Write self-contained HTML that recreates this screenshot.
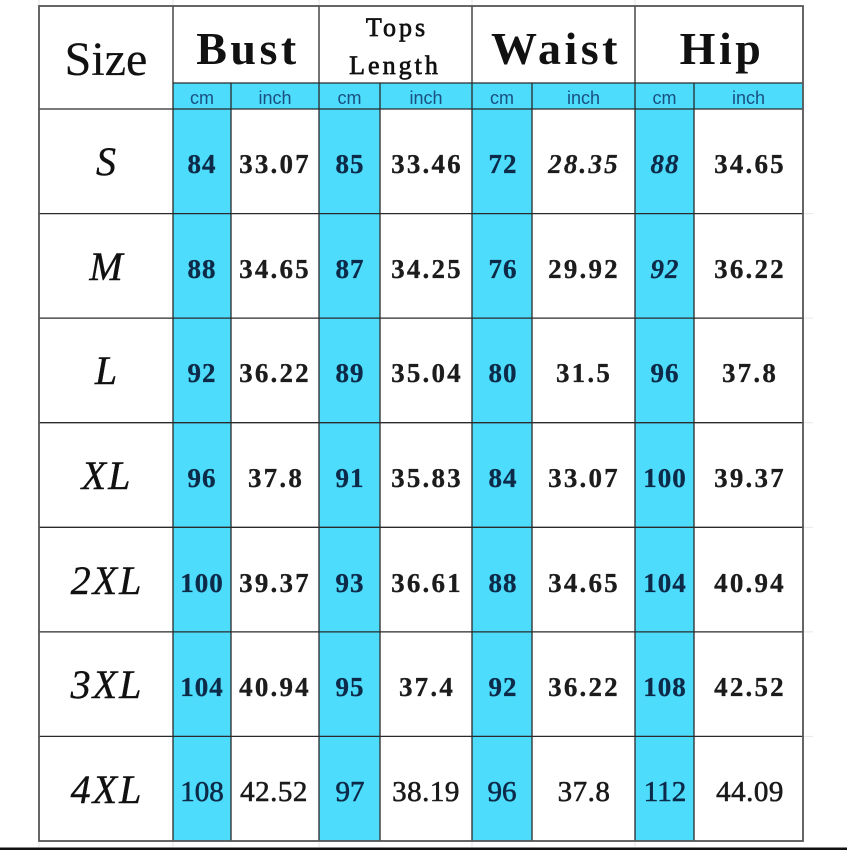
<!DOCTYPE html>
<html><head><meta charset="utf-8"><style>
html,body{margin:0;padding:0;background:#fff;}
svg{display:block;}
.n{font-family:"Liberation Serif",serif;font-weight:bold;font-size:27px;letter-spacing:2.2px;fill:#1c1c1c;stroke:#1c1c1c;stroke-width:0.3px;}
.c{font-family:"Liberation Serif",serif;font-weight:bold;font-size:27px;letter-spacing:1px;fill:#0d2a48;stroke:#0d2a48;stroke-width:0.3px;}
.s{font-family:"Liberation Serif",serif;font-style:italic;font-size:40px;letter-spacing:2px;fill:#111;stroke:#111;stroke-width:0.4px;}
.u{font-family:"Liberation Sans",sans-serif;font-size:18px;fill:#1a4f80;}
.h{font-family:"Liberation Serif",serif;font-weight:bold;font-size:46px;letter-spacing:3.5px;fill:#111;}
.t{font-family:"Liberation Serif",serif;font-size:26px;letter-spacing:3px;fill:#111;stroke:#111;stroke-width:0.7px;}
.r{font-family:"Liberation Serif",serif;font-size:29px;letter-spacing:0.5px;fill:#1a1a1a;stroke:#1a1a1a;stroke-width:0.6px;}
.rc{font-family:"Liberation Serif",serif;font-size:29px;letter-spacing:0px;fill:#0d2a48;stroke:#0d2a48;stroke-width:0.6px;}
</style></head><body>
<svg width="847" height="850" viewBox="0 0 847 850" xmlns="http://www.w3.org/2000/svg">
<rect width="847" height="850" fill="#fff"/>
<g stroke="#e6e6e6" stroke-width="1">
<line x1="39" y1="0" x2="39" y2="6"/><line x1="173" y1="0" x2="173" y2="6"/><line x1="319" y1="0" x2="319" y2="6"/><line x1="472" y1="0" x2="472" y2="6"/><line x1="635" y1="0" x2="635" y2="6"/>
<line x1="803" y1="213.6" x2="813" y2="213.6"/><line x1="803" y1="318.1" x2="813" y2="318.1"/><line x1="803" y1="422.7" x2="813" y2="422.7"/><line x1="803" y1="527.3" x2="813" y2="527.3"/><line x1="803" y1="631.9" x2="813" y2="631.9"/><line x1="803" y1="736.4" x2="813" y2="736.4"/>
<line x1="39" y1="842" x2="39" y2="847"/><line x1="173" y1="842" x2="173" y2="847"/><line x1="319" y1="842" x2="319" y2="847"/><line x1="472" y1="842" x2="472" y2="847"/><line x1="635" y1="842" x2="635" y2="847"/>
</g>
<g fill="#4ddcfc">
<rect x="173" y="83" width="630" height="26"/>
<rect x="173" y="109" width="58" height="732"/>
<rect x="319" y="109" width="61" height="732"/>
<rect x="472" y="109" width="60" height="732"/>
<rect x="635" y="109" width="59" height="732"/>
</g>
<g stroke="#2a2a2a" stroke-width="1.3">
<line x1="173" y1="6" x2="173" y2="841"/>
<line x1="231" y1="83" x2="231" y2="841"/>
<line x1="319" y1="6" x2="319" y2="841"/>
<line x1="380" y1="83" x2="380" y2="841"/>
<line x1="472" y1="6" x2="472" y2="841"/>
<line x1="532" y1="83" x2="532" y2="841"/>
<line x1="635" y1="6" x2="635" y2="841"/>
<line x1="694" y1="83" x2="694" y2="841"/>
<line x1="173" y1="83" x2="803" y2="83"/>
<line x1="39" y1="109" x2="803" y2="109"/>
<line x1="39" y1="213.6" x2="803" y2="213.6"/>
<line x1="39" y1="318.1" x2="803" y2="318.1"/>
<line x1="39" y1="422.7" x2="803" y2="422.7"/>
<line x1="39" y1="527.3" x2="803" y2="527.3"/>
<line x1="39" y1="631.9" x2="803" y2="631.9"/>
<line x1="39" y1="736.4" x2="803" y2="736.4"/>
</g>
<rect x="39" y="6" width="764" height="835" fill="none" stroke="#555" stroke-width="1.8"/>
<rect x="0" y="847.5" width="847" height="2.5" fill="#111"/>

<text class="s" x="106" y="75" text-anchor="middle" style="font-style:normal;font-size:48px;letter-spacing:0;stroke-width:0.2px">Size</text>
<text class="h" x="248" y="64" text-anchor="middle">Bust</text>
<text class="t" x="397" y="36" text-anchor="middle">Tops</text>
<text class="t" x="395" y="74" text-anchor="middle">Length</text>
<text class="h" x="556" y="64" text-anchor="middle">Waist</text>
<text class="h" x="722" y="64" text-anchor="middle">Hip</text>

<g class="u" text-anchor="middle">
<text x="202" y="104">cm</text><text x="275" y="104">inch</text>
<text x="349.5" y="104">cm</text><text x="426" y="104">inch</text>
<text x="502" y="104">cm</text><text x="583.5" y="104">inch</text>
<text x="664.5" y="104">cm</text><text x="748.5" y="104">inch</text>
</g>

<g text-anchor="middle">
<text class="s" x="107" y="175">S</text>
<text class="c" x="202" y="173">84</text><text class="n" x="275" y="173">33.07</text>
<text class="c" x="350" y="173">85</text><text class="n" x="427" y="173">33.46</text>
<text class="c" x="503" y="173">72</text><text class="n" x="584" y="173" style="font-style:italic">28.35</text>
<text class="c" x="665" y="173" style="font-style:italic">88</text><text class="n" x="750" y="173">34.65</text>

<text class="s" x="107" y="280">M</text>
<text class="c" x="202" y="278">88</text><text class="n" x="275" y="278">34.65</text>
<text class="c" x="350" y="278">87</text><text class="n" x="427" y="278">34.25</text>
<text class="c" x="503" y="278">76</text><text class="n" x="584" y="278">29.92</text>
<text class="c" x="665" y="278" style="font-style:italic">92</text><text class="n" x="750" y="278">36.22</text>

<text class="s" x="107" y="384">L</text>
<text class="c" x="202" y="382">92</text><text class="n" x="275" y="382">36.22</text>
<text class="c" x="350" y="382">89</text><text class="n" x="427" y="382">35.04</text>
<text class="c" x="503" y="382">80</text><text class="n" x="584" y="382">31.5</text>
<text class="c" x="665" y="382">96</text><text class="n" x="750" y="382">37.8</text>

<text class="s" x="107" y="489">XL</text>
<text class="c" x="202" y="487">96</text><text class="n" x="276" y="487">37.8</text>
<text class="c" x="350" y="487">91</text><text class="n" x="427" y="487">35.83</text>
<text class="c" x="503" y="487">84</text><text class="n" x="584" y="487">33.07</text>
<text class="c" x="665" y="487">100</text><text class="n" x="750" y="487">39.37</text>

<text class="s" x="107" y="594">2XL</text>
<text class="c" x="202" y="592">100</text><text class="n" x="275" y="592">39.37</text>
<text class="c" x="350" y="592">93</text><text class="n" x="427" y="592">36.61</text>
<text class="c" x="503" y="592">88</text><text class="n" x="584" y="592">34.65</text>
<text class="c" x="665" y="592">104</text><text class="n" x="750" y="592">40.94</text>

<text class="s" x="107" y="698">3XL</text>
<text class="c" x="202" y="696">104</text><text class="n" x="275" y="696">40.94</text>
<text class="c" x="350" y="696">95</text><text class="n" x="427" y="696">37.4</text>
<text class="c" x="503" y="696">92</text><text class="n" x="584" y="696">36.22</text>
<text class="c" x="665" y="696">108</text><text class="n" x="750" y="696">42.52</text>

<text class="s" x="107" y="803">4XL</text>
<text class="rc" x="202" y="801">108</text><text class="r" x="274" y="801">42.52</text>
<text class="rc" x="350" y="801">97</text><text class="r" x="426" y="801">38.19</text>
<text class="rc" x="502" y="801">96</text><text class="r" x="584" y="801">37.8</text>
<text class="rc" x="665" y="801">112</text><text class="r" x="750" y="801">44.09</text>
</g>
</svg>
</body></html>
